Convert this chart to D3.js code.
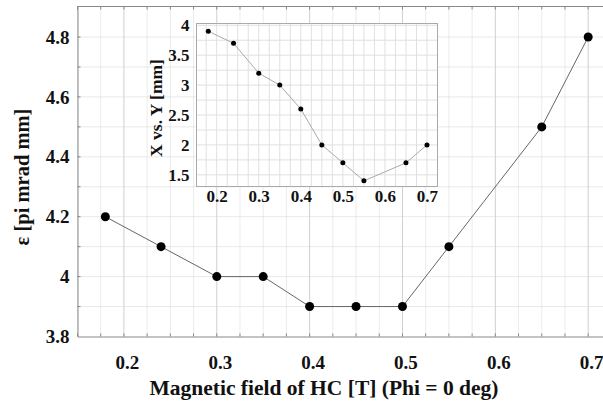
<!DOCTYPE html>
<html>
<head>
<meta charset="utf-8">
<script src="https://cdn.jsdelivr.net/npm/d3@7"></script>
<style>
  body { margin: 0; background: #fff; }
  svg text { font-family: "Liberation Serif", "DejaVu Serif", serif !important; font-weight: bold; fill: #111; }
</style>
</head>
<body>
<svg id="chart" width="603" height="405"></svg>
<script>
// main series: emittance vs field
const fieldX = [0.18, 0.24, 0.3, 0.35, 0.4, 0.45, 0.5, 0.55, 0.65, 0.7];
const emittance = [4.2, 4.1, 4.0, 4.0, 3.9, 3.9, 3.9, 4.1, 4.5, 4.8];
// inset series
const insetX = [0.18, 0.24, 0.3, 0.35, 0.4, 0.45, 0.5, 0.55, 0.65, 0.7];
const insetY = [3.9, 3.7, 3.2, 3.0, 2.6, 2.0, 1.7, 1.4, 1.7, 2.0];

const xTicks = [0.2, 0.3, 0.4, 0.5, 0.6, 0.7];
const yTicks = [3.8, 4, 4.2, 4.4, 4.6, 4.8];
const insetXTicks = [0.2, 0.3, 0.4, 0.5, 0.6, 0.7];
const insetYTicks = [1.5, 2, 2.5, 3, 3.5, 4];

const serif = '"Liberation Serif", "DejaVu Serif", serif';
const svg = d3.select("#chart");

// ---- main plot
const m = {left: 77.5, top: 6.5, right: 610, bottom: 336.5};
const x = d3.scaleLinear().domain([0.15, 0.7235]).range([m.left, m.right]);
const y = d3.scaleLinear().domain([3.8, 4.902]).range([m.bottom, m.top]);

const g = svg.append("g");

// minor vertical grid (0.025 steps)
const xMinor = d3.range(0.15, 0.7235, 0.025).map(v => +v.toFixed(3));
g.append("g").selectAll("line")
  .data(xMinor.filter(v => Math.abs(v * 10 - Math.round(v * 10)) > 1e-6))
  .join("line")
    .attr("x1", d => x(d)).attr("x2", d => x(d))
    .attr("y1", m.top).attr("y2", m.bottom)
    .attr("stroke", "#d8d8d8").attr("stroke-dasharray", "1,1");
// major vertical grid
g.append("g").selectAll("line")
  .data(xTicks)
  .join("line")
    .attr("x1", d => x(d)).attr("x2", d => x(d))
    .attr("y1", m.top).attr("y2", m.bottom)
    .attr("stroke", "#cfcfcf");
// horizontal grid (0.1 steps)
g.append("g").selectAll("line")
  .data(d3.range(3.9, 4.85, 0.1))
  .join("line")
    .attr("x1", m.left).attr("x2", m.right)
    .attr("y1", d => y(d)).attr("y2", d => y(d))
    .attr("stroke", "#d2d2d2").attr("stroke-dasharray", "1,1");

// axes
const xAxis = d3.axisBottom(x).tickValues(xTicks).tickSize(0).tickPadding(19)
  .tickFormat(d3.format(".1f"));
const xa = g.append("g").attr("transform", `translate(0,${m.bottom})`).call(xAxis)
  .attr("font-family", serif).attr("font-size", 19);
xa.select(".domain").attr("stroke", "#888");
xa.selectAll("text").attr("dx", 3).style("font-family", serif);

const yAxis = d3.axisLeft(y).tickValues(yTicks).tickSize(0).tickPadding(8)
  .tickFormat(d => d === 4 ? "4" : d3.format(".1f")(d));
const ya = g.append("g").attr("transform", `translate(${m.left},0)`).call(yAxis)
  .attr("font-family", serif).attr("font-size", 19);
ya.select(".domain").attr("stroke", "#888");
ya.selectAll("text").style("font-family", serif);

// top border
g.append("line").attr("x1", m.left).attr("x2", m.right)
  .attr("y1", m.top).attr("y2", m.top).attr("stroke", "#888");

// small inward ticks on top and bottom
g.append("g").selectAll("line").data(xMinor).join("line")
  .attr("x1", d => x(d)).attr("x2", d => x(d))
  .attr("y1", m.top).attr("y2", m.top + 3).attr("stroke", "#888");
g.append("g").selectAll("line").data(xMinor).join("line")
  .attr("x1", d => x(d)).attr("x2", d => x(d))
  .attr("y1", m.bottom).attr("y2", m.bottom - 3).attr("stroke", "#888");
g.append("g").selectAll("line").data(d3.range(3.9, 4.85, 0.1)).join("line")
  .attr("x1", m.left).attr("x2", m.left + 3)
  .attr("y1", d => y(d)).attr("y2", d => y(d)).attr("stroke", "#888");

// line + points
const pts = fieldX.map((v, i) => [v, emittance[i]]);
g.append("path").datum(pts)
  .attr("fill", "none").attr("stroke", "#666").attr("stroke-width", 1)
  .attr("d", d3.line().x(d => x(d[0])).y(d => y(d[1])));
g.append("g").selectAll("circle").data(pts).join("circle")
  .attr("cx", d => x(d[0])).attr("cy", d => y(d[1])).attr("r", 4.5).attr("fill", "#000");

// axis titles
svg.append("text").attr("x", 324).attr("y", 395).attr("text-anchor", "middle")
  .style("font-family", serif).attr("font-size", 21.5).text("Magnetic field of HC [T] (Phi = 0 deg)");
svg.append("text").attr("transform", "translate(29,177) rotate(-90)")
  .style("font-family", serif).attr("text-anchor", "middle").attr("font-size", 20.5).text("ε [pi mrad mm]");

// ---- inset
const ib = {left: 196.5, top: 23.5, right: 437.5, bottom: 186.5};
const ix = d3.scaleLinear().domain([0.152, 0.725]).range([ib.left, ib.right]);
const iy = d3.scaleLinear().domain([1.305, 4.03]).range([ib.bottom, ib.top]);
const ig = svg.append("g");

ig.append("rect").attr("x", ib.left).attr("y", ib.top)
  .attr("width", ib.right - ib.left).attr("height", ib.bottom - ib.top)
  .attr("fill", "#fff");
ig.append("g").selectAll("line")
  .data(d3.range(0.175, 0.725, 0.025))
  .join("line")
    .attr("x1", d => ix(d)).attr("x2", d => ix(d))
    .attr("y1", ib.top).attr("y2", ib.bottom)
    .attr("stroke", "#e0e0e0");
ig.append("g").selectAll("line")
  .data(d3.range(1.5, 4.01, 0.25))
  .join("line")
    .attr("x1", ib.left).attr("x2", ib.right)
    .attr("y1", d => iy(d)).attr("y2", d => iy(d))
    .attr("stroke", "#e0e0e0");
ig.append("rect").attr("x", ib.left).attr("y", ib.top)
  .attr("width", ib.right - ib.left).attr("height", ib.bottom - ib.top)
  .attr("fill", "none").attr("stroke", "#aaa");

const ixa = ig.append("g").attr("transform", `translate(0,${ib.bottom})`)
  .call(d3.axisBottom(ix).tickValues(insetXTicks).tickSize(0).tickPadding(3).tickFormat(d3.format(".1f")))
  .attr("font-family", serif).attr("font-size", 17);
ixa.select(".domain").remove();
ixa.selectAll("text").style("font-family", serif);

const iya = ig.append("g").attr("transform", `translate(${ib.left},0)`)
  .call(d3.axisLeft(iy).tickValues(insetYTicks).tickSize(0).tickPadding(7).tickFormat(d => Number.isInteger(d) ? d : d.toFixed(1)))
  .attr("font-family", serif).attr("font-size", 17);
iya.select(".domain").remove();
iya.selectAll("text").style("font-family", serif);

const ipts = insetX.map((v, i) => [v, insetY[i]]);
ig.append("path").datum(ipts)
  .attr("fill", "none").attr("stroke", "#aaa").attr("stroke-width", 1)
  .attr("d", d3.line().x(d => ix(d[0])).y(d => iy(d[1])));
ig.append("g").selectAll("circle").data(ipts).join("circle")
  .attr("cx", d => ix(d[0])).attr("cy", d => iy(d[1])).attr("r", 2.5).attr("fill", "#000");

svg.append("text").attr("transform", "translate(162,108) rotate(-90)")
  .style("font-family", serif).attr("text-anchor", "middle").attr("font-size", 17.5).text("X vs. Y [mm]");
</script>
</body>
</html>
